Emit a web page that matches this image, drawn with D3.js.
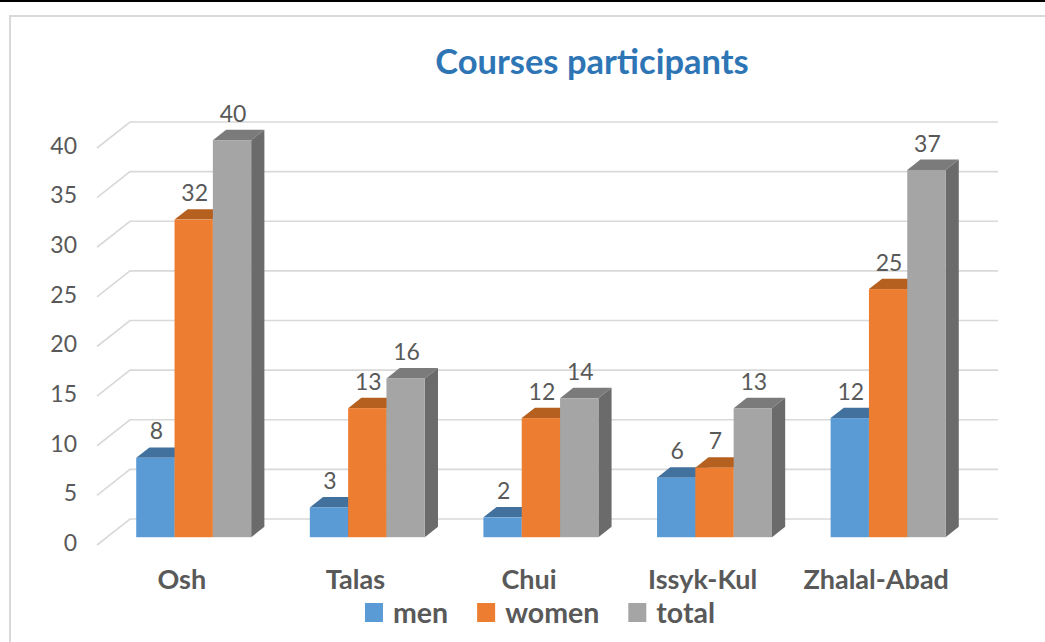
<!DOCTYPE html>
<html>
<head>
<meta charset="utf-8">
<script src="https://cdn.jsdelivr.net/npm/d3@7"></script>
<style>
  html, body { margin: 0; padding: 0; background: #fff; }
  svg { display: block; }
</style>
</head>
<body>
<svg id="chart" width="1045" height="642"></svg>
<script>
// data
const regions = ["Osh", "Talas", "Chui", "Issyk-Kul", "Zhalal-Abad"];
const seriesNames = ["men", "women", "total"];
const men = [8, 3, 2, 6, 12];
const women = [32, 13, 12, 7, 25];
const total = [40, 16, 14, 13, 37];
const yTicks = [0, 5, 10, 15, 20, 25, 30, 35, 40];

const seriesValues = [men, women, total];
const frontColor = ["#5B9BD5", "#ED7D31", "#A5A5A5"];
const topColor = ["#43719E", "#B5601F", "#7B7B7B"];
const sideColor = ["#3A6590", "#A0541C", "#6B6B6B"];

const svg = d3.select("#chart");
const font = "Lato, 'Open Sans', sans-serif";
const textColor = "#595959";

// oblique depth of the floor (z = 0 front, z = 1 back)
const depthX = 33, depthY = -26;
const zFront = 0.3, zBack = 0.7;

const y = d3.scaleLinear().domain([0, 40]).range([545, 148]);
const x = d3.scaleBand().domain(regions).range([97, 965]).padding(0);
const xs = d3
  .scaleBand()
  .domain(seriesNames)
  .range([0, x.bandwidth()])
  .paddingInner(0)
  .paddingOuter(0.765);

// top black line and outer frame
svg.append("line")
  .attr("x1", 0).attr("x2", 1045).attr("y1", 1).attr("y2", 1)
  .attr("stroke", "#000").attr("stroke-width", 2);
svg.append("rect")
  .attr("x", 10).attr("y", 16).attr("width", 1060).attr("height", 660)
  .attr("fill", "none").attr("stroke", "#D9D9D9").attr("stroke-width", 2);

// title
svg.append("text")
  .attr("x", 592).attr("y", 74)
  .attr("text-anchor", "middle")
  .style("font-family", font).style("font-weight", "bold")
  .style("font-size", "34.5px").style("fill", "#2E75B6")
  .text("Courses participants");

// gridlines: short diagonal on the side wall, then along the back wall
const grid = svg.append("g");
yTicks.forEach((t) => {
  const yy = y(t);
  grid.append("path")
    .attr("d", `M${x.range()[0]},${yy} L${x.range()[0] + depthX},${yy + depthY} L${x.range()[1] + depthX},${yy + depthY}`)
    .attr("fill", "none").attr("stroke", "#D9D9D9").attr("stroke-width", 1.6);
  grid.append("text")
    .attr("x", 77).attr("y", yy)
    .attr("text-anchor", "end").attr("dominant-baseline", "middle")
    .style("font-family", font).style("font-size", "23px").style("fill", textColor)
    .text(t);
});

// bars (drawn left to right so each front covers the previous side face)
const bars = svg.append("g");
const ox = depthX * zFront, oy = depthY * zFront;
const dx = depthX * (zBack - zFront), dy = depthY * (zBack - zFront);

regions.forEach((r, i) => {
  seriesNames.forEach((s, k) => {
    const v = seriesValues[k][i];
    const x0 = x(r) + xs(s) + ox;
    const x1 = x0 + xs.bandwidth();
    const yb = y(0) + oy;
    const yt = y(v) + oy;
    const g = bars.append("g");
    // top
    g.append("path")
      .attr("d", `M${x0},${yt} L${x1},${yt} L${x1 + dx},${yt + dy} L${x0 + dx},${yt + dy} Z`)
      .attr("fill", topColor[k]);
    // side
    g.append("path")
      .attr("d", `M${x1},${yt} L${x1 + dx},${yt + dy} L${x1 + dx},${yb + dy} L${x1},${yb} Z`)
      .attr("fill", sideColor[k]);
    // front
    g.append("rect")
      .attr("x", x0).attr("y", yt)
      .attr("width", x1 - x0).attr("height", yb - yt)
      .attr("fill", frontColor[k]);
    // value label
    svg.append("text")
      .attr("x", (x0 + x1) / 2 + 1).attr("y", yt + dy - 8)
      .attr("text-anchor", "middle")
      .style("font-family", font).style("font-size", "23px").style("fill", textColor)
      .text(v);
  });
});

// category labels
regions.forEach((r) => {
  svg.append("text")
    .attr("x", x(r) + x.bandwidth() / 2 - 2).attr("y", 589)
    .attr("text-anchor", "middle")
    .style("font-family", font).style("font-weight", "bold")
    .style("font-size", "27px").style("fill", textColor)
    .text(r);
});

// legend
const legend = svg.append("g");
let lx = 0;
seriesNames.forEach((s, k) => {
  const item = legend.append("g").attr("transform", `translate(${lx},0)`);
  item.append("rect")
    .attr("x", 0).attr("y", 603).attr("width", 18).attr("height", 19)
    .attr("fill", frontColor[k]);
  const t = item.append("text")
    .attr("x", 28).attr("y", 623)
    .style("font-family", font).style("font-weight", "bold")
    .style("font-size", "28.5px").style("fill", textColor)
    .text(s);
  lx += 28 + t.node().getComputedTextLength() + 29;
});
const legendWidth = lx - 29;
legend.attr("transform", `translate(${540 - legendWidth / 2},0)`);
</script>
</body>
</html>
